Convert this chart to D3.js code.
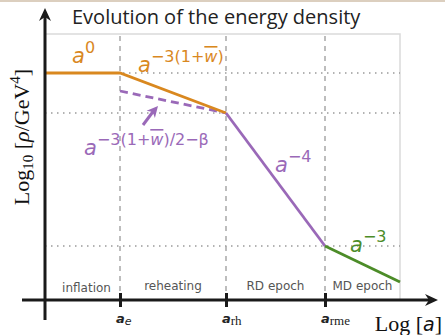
<!DOCTYPE html>
<html>
<head>
<meta charset="utf-8">
<script src="https://cdn.jsdelivr.net/npm/d3@7"></script>
<style>
  body { margin: 0; background: #fff; }
  svg { display: block; }
</style>
</head>
<body>
<div id="chart"></div>
<script>
// datos del esquema (unidades arbitrarias de log a y log rho)
var epochs = ["inflation", "reheating", "RD epoch", "MD epoch"],
    edgesLogA = [0, 7.5, 18.1, 28.0, 35.5],
    tickSubs = ["e", "rh", "rme"],
    orangeRho = [22.7, 22.7, 18.7],   // en edges 0,1,2
    dashedRho = [20.9, 18.7],         // en edges 1,2
    purpleRho = [18.7, 5.4],          // en edges 2,3
    greenRho = [5.4, 1.8],            // en edges 3,4
    gridRho = [22.7, 18.7, 5.4];

var w = 445, h = 335,
    margin = {top: 34, right: 45, bottom: 35, left: 45};

var cOrange = "#d9881f", cPurple = "#9a69b8", cGreen = "#4c8c28";

var svg = d3.select("#chart").append("svg")
    .attr("width", w).attr("height", h);

// franja superior
svg.append("rect").attr("x", 0).attr("y", 0).attr("width", w).attr("height", 2)
    .attr("fill", "#dccfbf");

var x = d3.scaleLinear().domain([0, 35.5]).range([margin.left, w - margin.right]),
    y = d3.scaleLinear().domain([0, 26.6]).range([h - margin.bottom, margin.top]);

var x0 = x.range()[0], x1 = x.range()[1], y0 = y.range()[0], y1 = y.range()[1];

// caja gris
svg.append("rect")
    .attr("x", x0).attr("y", y1).attr("width", x1 - x0).attr("height", y0 - y1)
    .attr("fill", "none").attr("stroke", "#dadada").attr("stroke-width", 1.5);

// lineas de rejilla punteadas
svg.selectAll(".hgrid").data(gridRho).enter().append("line")
    .attr("x1", x0).attr("x2", x1)
    .attr("y1", function(d) { return y(d); }).attr("y2", function(d) { return y(d); })
    .attr("stroke", "#9a9a9a").attr("stroke-width", 1.5)
    .attr("stroke-dasharray", "1.5,4.5");

// separadores de epocas
svg.selectAll(".vgrid").data(edgesLogA.slice(1, 4)).enter().append("line")
    .attr("x1", function(d) { return x(d); }).attr("x2", function(d) { return x(d); })
    .attr("y1", y1 + 2).attr("y2", y0)
    .attr("stroke", "#a8a8a8").attr("stroke-width", 1.5)
    .attr("stroke-dasharray", "5,5");

var line = d3.line().x(function(d) { return x(d[0]); }).y(function(d) { return y(d[1]); });

function seg(vals, start) {
    return vals.map(function(v, i) { return [edgesLogA[start + i], v]; });
}

svg.append("path").datum(seg(dashedRho, 1)).attr("d", line)
    .attr("fill", "none").attr("stroke", cPurple).attr("stroke-width", 2.8)
    .attr("stroke-dasharray", "8,5");
svg.append("path").datum(seg(orangeRho, 0)).attr("d", line)
    .attr("fill", "none").attr("stroke", cOrange).attr("stroke-width", 2.8);
svg.append("path").datum(seg(purpleRho, 2)).attr("d", line)
    .attr("fill", "none").attr("stroke", cPurple).attr("stroke-width", 2.8);
svg.append("path").datum(seg(greenRho, 3)).attr("d", line)
    .attr("fill", "none").attr("stroke", cGreen).attr("stroke-width", 2.8);

// flecha morada
svg.append("line")
    .attr("x1", x(9.8)).attr("y1", y(17.5))
    .attr("x2", x(11.0)).attr("y2", y(19.1))
    .attr("stroke", cPurple).attr("stroke-width", 3);
svg.append("path")
    .attr("transform", "translate(" + x(11.3) + "," + y(19.4) + ") rotate(" + (Math.atan2(-16, 14) * 180 / Math.PI + 90) + ")")
    .attr("d", "M0,0 L-5.5,11 L0,8 L5.5,11 Z")
    .attr("fill", cPurple);

// etiquetas de potencias
var sans = "'DejaVu Sans', sans-serif";
function powLabel(px, py, color, sup) {
    var t = svg.append("text").attr("x", px).attr("y", py)
        .attr("fill", color).style("font-family", sans);
    t.append("tspan").style("font-style", "italic").style("font-size", "21px").text("a");
    var s = t.append("tspan").attr("dy", -10).style("font-size", "16px");
    sup.forEach(function(p) {
        if (p === "w") {
            s.append("tspan").style("font-style", "italic").style("text-decoration", "overline").text("w");
        } else {
            s.append("tspan").text(p);
        }
    });
}
powLabel(x(2.7), y(23.7), cOrange, ["0"]);
powLabel(x(9.3), y(22.8), cOrange, ["\u22123(1+", "w", ")"]);
powLabel(x(3.9), y(14.5), cPurple, ["\u22123(1+", "w", ")/2\u2212\u03b2"]);
powLabel(x(23.0), y(12.8), cPurple, ["\u22124"]);
powLabel(x(30.5), y(4.8), cGreen, ["\u22123"]);

// nombres de epocas
svg.selectAll(".epoch").data(epochs).enter().append("text")
    .attr("x", function(d, i) { return x((edgesLogA[i] + edgesLogA[i + 1]) / 2) + (i === 0 ? 4 : 0); })
    .attr("y", function(d, i) { return i === 0 ? y0 - 8 : y0 - 10; })
    .attr("text-anchor", "middle")
    .style("font-family", sans).style("font-size", "12px").attr("fill", "#555")
    .text(function(d) { return d; });

// ejes
var ax = svg.append("g");
ax.append("line").attr("x1", 22).attr("x2", w - 14).attr("y1", y0).attr("y2", y0)
    .attr("stroke", "#1a1a1a").attr("stroke-width", 3);
ax.append("line").attr("x1", x0).attr("x2", x0).attr("y1", 14).attr("y2", y0 + 20)
    .attr("stroke", "#1a1a1a").attr("stroke-width", 3);
ax.append("path").attr("d", "M" + (w - 7) + "," + y0 + " l-13,-6 l4,6 l-4,6 Z").attr("fill", "#1a1a1a");
ax.append("path").attr("d", "M" + x0 + ",8 l-6,13 l6,-4 l6,4 Z").attr("fill", "#1a1a1a");

var xAxis = d3.axisBottom(x).tickValues(edgesLogA.slice(1, 4)).tickSize(14).tickFormat("");
var gx = svg.append("g").attr("transform", "translate(0," + (y0 - 7) + ")").call(xAxis);
gx.select(".domain").remove();
gx.selectAll(".tick line").attr("stroke", "#1a1a1a").attr("stroke-width", 3);

svg.selectAll(".tlab").data(tickSubs).enter().append("text")
    .attr("x", function(d, i) { return x(edgesLogA[i + 1]) - 4; })
    .attr("y", y0 + 23)
    .attr("fill", "#222")
    .each(function(d) {
        var t = d3.select(this);
        t.append("tspan").style("font-family", sans).style("font-style", "italic")
            .style("font-weight", "bold").style("font-size", "13px").text("a");
        t.append("tspan").attr("dy", 2)
            .style("font-family", d === "e" ? sans : "'Liberation Serif', serif")
            .style("font-style", d === "e" ? "italic" : "normal")
            .style("font-size", d === "e" ? "11px" : "13px").text(d);
    });

// titulos
svg.append("text").attr("x", 72).attr("y", 24)
    .style("font-family", "'Open Sans', sans-serif").style("font-size", "20px")
    .attr("fill", "#222").text("Evolution of the energy density");

var xl = svg.append("text").attr("x", w - 3).attr("y", 331).attr("text-anchor", "end")
    .style("font-family", "'Liberation Serif', serif").style("font-size", "22px").attr("fill", "#111");
xl.append("tspan").text("Log [");
xl.append("tspan").style("font-family", sans).style("font-style", "italic").style("font-size", "19px").text("a");
xl.append("tspan").text("]");

var yl = svg.append("text").attr("transform", "translate(29,137) rotate(-90)")
    .attr("text-anchor", "middle")
    .style("font-family", "'Liberation Serif', serif").style("font-size", "22px").attr("fill", "#111");
yl.append("tspan").text("Log");
yl.append("tspan").attr("dy", 4).style("font-size", "15px").text("10");
yl.append("tspan").attr("dy", -4).text(" [");
yl.append("tspan").style("font-style", "italic").text("\u03c1");
yl.append("tspan").text("/GeV");
yl.append("tspan").attr("dy", -9).style("font-size", "15px").text("4");
yl.append("tspan").attr("dy", 9).text("]");
</script>
</body>
</html>
